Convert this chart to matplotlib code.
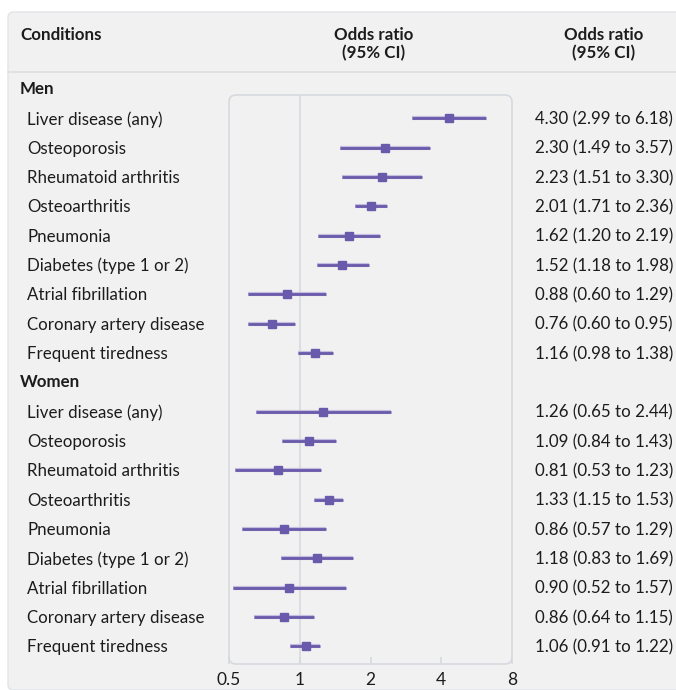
import numpy as np
import matplotlib.pyplot as plt
from matplotlib.patches import FancyBboxPatch
from matplotlib.transforms import blended_transform_factory

# data
conditions = ['Liver disease (any)', 'Osteoporosis', 'Rheumatoid arthritis',
              'Osteoarthritis', 'Pneumonia', 'Diabetes (type 1 or 2)',
              'Atrial fibrillation', 'Coronary artery disease', 'Frequent tiredness']
men_or = [4.30, 2.30, 2.23, 2.01, 1.62, 1.52, 0.88, 0.76, 1.16]
men_lo = [2.99, 1.49, 1.51, 1.71, 1.20, 1.18, 0.60, 0.60, 0.98]
men_hi = [6.18, 3.57, 3.30, 2.36, 2.19, 1.98, 1.29, 0.95, 1.38]
women_or = [1.26, 1.09, 0.81, 1.33, 0.86, 1.18, 0.90, 0.86, 1.06]
women_lo = [0.65, 0.84, 0.53, 1.15, 0.57, 0.83, 0.52, 0.64, 0.91]
women_hi = [2.44, 1.43, 1.23, 1.53, 1.29, 1.69, 1.57, 1.15, 1.22]
xticks = [0.5, 1, 2, 4, 8]

plt.rcParams['font.family'] = ['Lato', 'DejaVu Sans']
bg = '#f1f1f1'
grid = '#d6d9de'
purple = '#6a5aab'
txt = '#1c1c1c'
fs = 12.2

fig = plt.figure(figsize=(6.76, 6.90), dpi=100)
fig.patch.set_facecolor('white')

# panel background
panel = FancyBboxPatch((8 / 676, 0), 1.0, 1 - 12 / 690,
                       boxstyle='round,pad=0,rounding_size=0.008',
                       transform=fig.transFigure, facecolor=bg,
                       edgecolor='#e2e4e8', linewidth=1, zorder=-10)
fig.patches.append(panel)
fig.add_artist(plt.Line2D([8 / 676, 1], [1 - 72 / 690] * 2, color='#dcdfe3',
                          linewidth=1.2, transform=fig.transFigure, zorder=-5))

ax = fig.add_axes([229 / 676, 1 - 664 / 690, 283 / 676, 569 / 690])
ax.set_zorder(5)
ax.set_facecolor('none')
ax.set_xscale('log', base=2)
ax.set_xlim(0.5, 8)
ax.set_ylim(19.6, 0.2)
for s in ax.spines.values():
    s.set_visible(False)
ax.add_patch(FancyBboxPatch((0, 0), 1, 1, boxstyle='round,pad=0,rounding_size=0.025',
                            transform=ax.transAxes, facecolor='none',
                            edgecolor=grid, linewidth=1.2, clip_on=False,
                            mutation_aspect=283 / 569))
ax.axvline(1, color=grid, linewidth=1.2, zorder=1)
ax.set_xticks(xticks)
ax.set_xticklabels(['0.5', '1', '2', '4', '8'])
ax.minorticks_off()
ax.tick_params(axis='x', direction='in', length=5, width=1.2, color=grid,
               labelsize=12.5, labelcolor=txt, pad=6)
ax.tick_params(axis='y', left=False, labelleft=False)

rows_y = list(range(1, 10)) + list(range(11, 20))
ors = men_or + women_or
los = men_lo + women_lo
his = men_hi + women_hi
ax.hlines(rows_y, los, his, color='#c4bde0', linewidth=3.0, zorder=2)
ax.hlines(rows_y, los, his, color=purple, linewidth=2.0, zorder=3)
ax.plot(ors, rows_y, 's', color=purple, markersize=5.6, zorder=4)

# text columns
tr = blended_transform_factory(fig.transFigure, ax.transData)
ax.text(20 / 676, 0, 'Men', transform=tr, fontsize=fs, fontweight='bold',
        color=txt, va='center', clip_on=False)
ax.text(20 / 676, 10, 'Women', transform=tr, fontsize=fs, fontweight='bold',
        color=txt, va='center', clip_on=False)
labels = conditions + conditions
for y, name, o, l, h in zip(rows_y, labels, ors, los, his):
    ax.text(27 / 676, y + 0.03, name, transform=tr, fontsize=fs, color=txt,
            va='center', clip_on=False)
    ax.text(535 / 676, y + 0.03, f'{o:.2f} ({l:.2f} to {h:.2f})', transform=tr,
            fontsize=fs, color=txt, va='center', clip_on=False)

fig.text(20 / 676, 1 - 35 / 690, 'Conditions', fontsize=fs, fontweight='bold',
         color=txt, va='center')
fig.text(374 / 676, 1 - 44 / 690, 'Odds ratio\n(95% CI)', fontsize=fs,
         fontweight='bold', color=txt, va='center', ha='center', linespacing=1.15)
fig.text(604 / 676, 1 - 44 / 690, 'Odds ratio\n(95% CI)', fontsize=fs,
         fontweight='bold', color=txt, va='center', ha='center', linespacing=1.15)

plt.savefig('out.png', dpi=100, facecolor=fig.get_facecolor())
